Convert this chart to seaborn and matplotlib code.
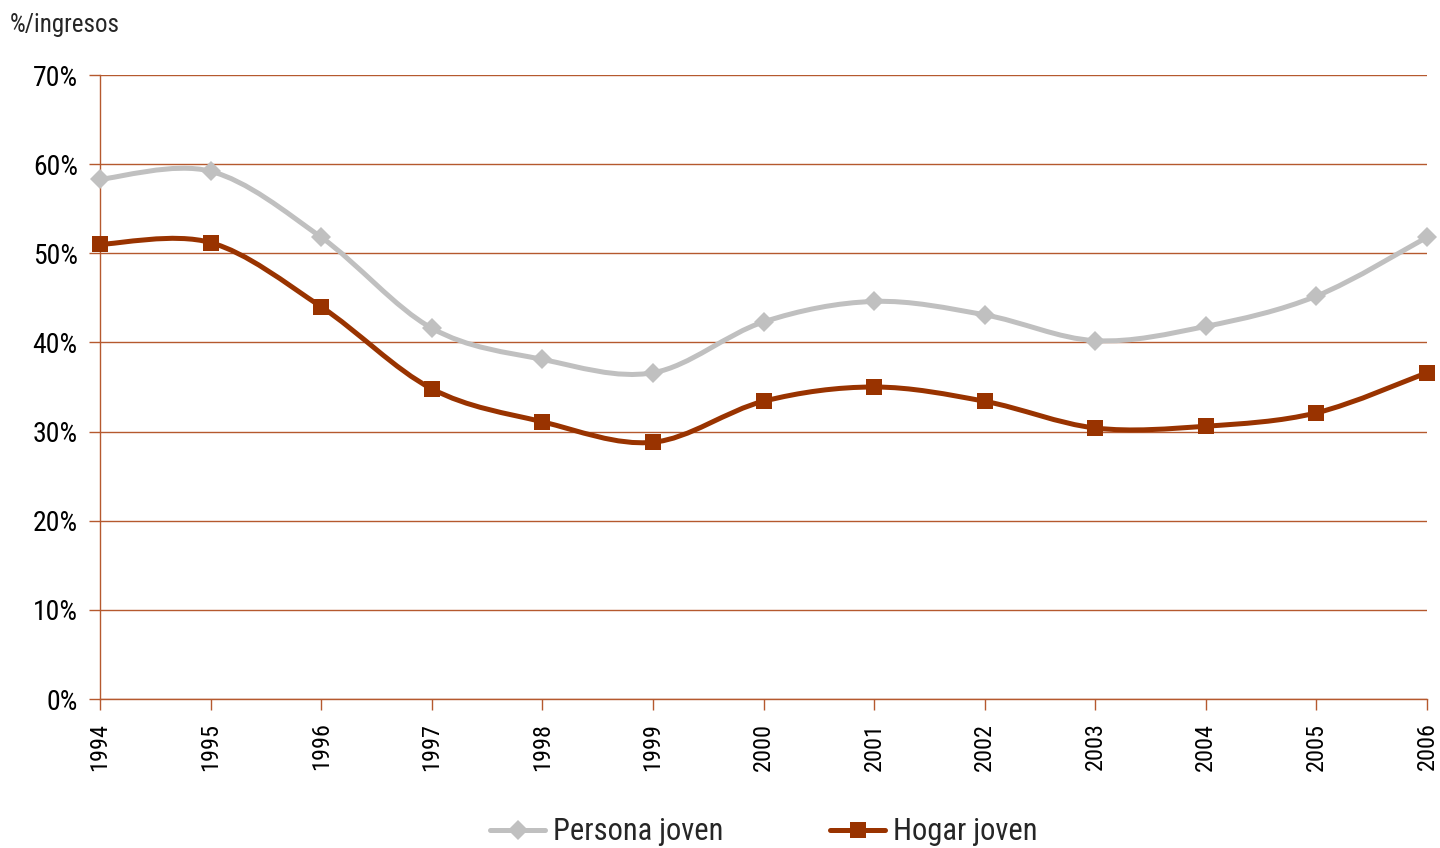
import matplotlib
matplotlib.use("Agg")
import matplotlib.pyplot as plt
import seaborn as sns
import numpy as np
import pandas as pd
from matplotlib.path import Path
from matplotlib.patches import PathPatch
from matplotlib.lines import Line2D

years = [1994, 1995, 1996, 1997, 1998, 1999, 2000, 2001, 2002, 2003, 2004, 2005, 2006]
persona = [58.3, 59.2, 51.8, 41.6, 38.1, 36.6, 42.3, 44.6, 43.1, 40.2, 41.8, 45.2, 51.8]
hogar = [51.0, 51.2, 44.0, 34.8, 31.1, 28.8, 33.4, 35.0, 33.4, 30.4, 30.6, 32.1, 36.6]
yticks = [0, 10, 20, 30, 40, 50, 60, 70]

sns.set_theme(style="white")
plt.rcParams['font.family'] = ['Roboto Condensed', 'Archivo Narrow', 'Liberation Sans', 'DejaVu Sans']

grid_c = '#B5592E'
gray_c = '#C0C0C0'
brown_c = '#993300'

fig = plt.figure(figsize=(14.4, 8.48), dpi=100)
ax = fig.add_axes([100/1440, 1-699/848, 1327/1440, (699-75)/848])

df = pd.DataFrame({'year': years * 2, 'value': persona + hogar,
                   'serie': ['Persona joven'] * len(years) + ['Hogar joven'] * len(years)})


def smooth_path(xs, ys):
    xs = np.asarray(xs, float); ys = np.asarray(ys, float)
    n = len(xs)
    verts = [(xs[0], ys[0])]
    codes = [Path.MOVETO]
    for i in range(n - 1):
        p0 = np.array([xs[max(i-1, 0)], ys[max(i-1, 0)]])
        p1 = np.array([xs[i], ys[i]])
        p2 = np.array([xs[i+1], ys[i+1]])
        p3 = np.array([xs[min(i+2, n-1)], ys[min(i+2, n-1)]])
        c1 = p1 + (p2 - p0) / 6.0
        c2 = p2 - (p3 - p1) / 6.0
        verts += [tuple(c1), tuple(c2), tuple(p2)]
        codes += [Path.CURVE4] * 3
    return Path(verts, codes)


for name, vals, col, mk, ms in [('Persona joven', persona, gray_c, 'D', 10),
                                ('Hogar joven', hogar, brown_c, 's', 11.5)]:
    ax.add_patch(PathPatch(smooth_path(years, vals), facecolor='none', edgecolor=col,
                           lw=3.6, zorder=3, clip_on=False, capstyle='round'))
    sub = df[df.serie == name]
    sns.lineplot(data=sub, x='year', y='value', ax=ax, color=col, marker=mk,
                 markersize=ms, markeredgewidth=0, linestyle='', zorder=4,
                 clip_on=False, legend=False)

ax.set_xlim(1994, 2006)
ax.set_ylim(0, 70)
ax.set_yticks(yticks)
ax.set_yticklabels([f'{t}%' for t in yticks], fontsize=20)
ax.set_xticks(years)
ax.set_xticklabels([str(y) for y in years], rotation=90, fontsize=17.5)
ax.set_xlabel('')
ax.set_ylabel('')
ax.yaxis.grid(True, color=grid_c, lw=1)
ax.xaxis.grid(False)
for s in ['top', 'right']:
    ax.spines[s].set_visible(False)
for s in ['left', 'bottom']:
    ax.spines[s].set_color(grid_c)
    ax.spines[s].set_linewidth(1)
ax.tick_params(axis='both', which='both', length=8, color=grid_c, width=1,
               bottom=True, left=True, labelcolor='black')
ax.tick_params(axis='y', pad=8)
ax.tick_params(axis='x', pad=9)

fig.text(10/1440, 1-25/848, '%/ingresos', fontsize=18, va='center', ha='left')

handles = [Line2D([], [], color=gray_c, lw=3.6, marker='D', markersize=10, markeredgewidth=0),
           Line2D([], [], color=brown_c, lw=3.6, marker='s', markersize=11.5, markeredgewidth=0)]
fig.legend(handles, ['Persona joven', 'Hogar joven'], loc='center', bbox_to_anchor=(764/1440, 1-832/848),
           ncol=2, frameon=False, fontsize=22, handlelength=1.8, columnspacing=3.5, handletextpad=0.25,
           borderpad=0, borderaxespad=0)

fig.savefig('out.png', dpi=100)
